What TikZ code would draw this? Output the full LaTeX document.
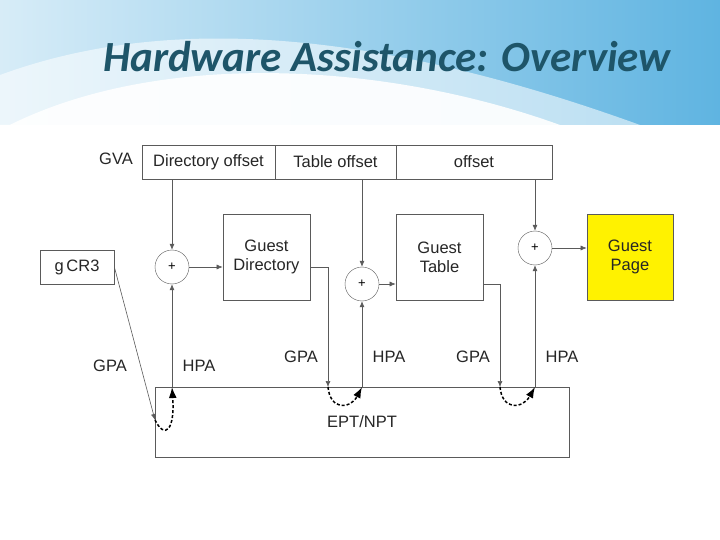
\documentclass[tikz,border=0pt]{standalone}
\usepackage{fontspec}
\setmainfont{Liberation Sans}
\newfontfamily\titlefont{Carlito}
\usetikzlibrary{arrows.meta}
\definecolor{ln}{RGB}{90,90,90}
\definecolor{sky}{RGB}{95,180,225}
\definecolor{titlec}{RGB}{30,85,105}
\begin{document}
\begin{tikzpicture}[x=1pt,y=-1pt,
  lbl/.style={font=\fontsize{16.5}{19}\selectfont,text=black!85},
  add/.style={draw=ln,circle,minimum size=34pt,inner sep=0pt,font=\fontsize{13}{14}\selectfont},
  arr/.style={draw=ln,line width=0.6pt,-{Latex[length=6pt,width=5pt]}},
  dsh/.style={draw=black,line width=1.5pt,dash pattern=on 3pt off 2pt,-{Latex[length=11pt,width=8pt]}}]
\useasboundingbox (0,0) rectangle (720,540);
\fill[white] (0,0) rectangle (720,540);
% top swoosh
\shade[left color=sky!25,right color=sky] (0,0) rectangle (720,125);
\fill[white,opacity=0.55] (0,75) .. controls (150,20) and (350,20) .. (640,125) -- (0,125) -- cycle;
\fill[white,opacity=0.9] (0,130) .. controls (150,50) and (380,60) .. (560,125) -- (0,125) -- cycle;
\fill[white] (0,127) rectangle (720,540);
\fill[white] (0,125) rectangle (684,127);
\node[font=\titlefont\bfseries\itshape\fontsize{43}{45}\selectfont,text=titlec] (title) at (387,57) {Hardware Assistance: Overview};
% GVA bar
\node[lbl] (gva) at (116,159) {GVA};
\node[draw=ln,line width=0.7pt,minimum width=133pt,minimum height=34pt,inner sep=0pt,lbl] (dir) at (208.5,162) {Directory offset};
\node[draw=ln,line width=0.7pt,minimum width=121pt,minimum height=34pt,inner sep=0pt,lbl] (tab) at (335.5,162) {Table offset};
\node[draw=ln,line width=0.7pt,minimum width=156pt,minimum height=34pt,inner sep=0pt,lbl] (off) at (474,162) {offset};
% boxes
\node[draw=ln,line width=0.7pt,minimum width=74pt,minimum height=34pt,inner sep=0pt,lbl] (cr3) at (77,267) {g\,CR3};
\node[draw=ln,line width=0.7pt,minimum width=87pt,minimum height=86pt,inner sep=0pt,lbl,align=center] (gd) at (266.5,257) {Guest\\Directory};
\node[draw=ln,line width=0.7pt,minimum width=87pt,minimum height=86pt,inner sep=0pt,lbl,align=center] (gt) at (439.5,257) {Guest\\Table};
\node[draw=ln,fill=yellow,line width=0.7pt,minimum width=86pt,minimum height=86pt,inner sep=0pt,lbl,align=center] (gp) at (630,257) {Guest\\Page};
\node[add] (c1) at (172,267) {+};
\node[add] (c2) at (362,284) {+};
\node[add] (c3) at (535,248) {+};
\node[draw=ln,line width=0.7pt,minimum width=414pt,minimum height=70pt,inner sep=0pt] (ept) at (362,422) {};
\node[lbl] (eptl) at (362,422) {EPT/NPT};
% offsets into adders
\draw[arr] (c1 |- dir.south) -- (c1.north);
\draw[arr] (c2 |- tab.south) -- (c2.north);
\draw[arr] (c3 |- off.south) -- (c3.north);
\draw[arr] (c1.east) -- (c1 -| gd.west);
\draw[arr] (c2.east) -- (c2 -| gt.west);
\draw[arr] (c3.east) -- (c3 -| gp.west);
% HPA
\draw[arr] (c1 |- ept.north) -- (c1.south);
\draw[arr] (c2 |- ept.north) -- (c2.south);
\draw[arr] (c3 |- ept.north) -- (c3.south);
% GPA
\coordinate (g1) at (328,387);
\coordinate (g2) at (500,387);
\draw[arr] (gd.east |- c1) -- (328,267) -- (g1);
\draw[arr] (gt.east |- c2) -- (500,284) -- (g2);
\coordinate (g0) at (155,420);
\draw[arr] (cr3.east) -- (g0);
% dashed
\coordinate (h0) at (172,387);
\coordinate (h1) at (362,387);
\coordinate (h2) at (535,387);
\draw[dsh] (g0) .. controls (165,440) and (175,430) .. (h0);
\draw[dsh] (g1) .. controls (330,410) and (350,410) .. (h1);
\draw[dsh] (g2) .. controls (502,410) and (522,410) .. (h2);
% labels
\node[lbl] (l1) at (110,366) {GPA};
\node[lbl] (l2) at (199,366) {HPA};
\node[lbl] (l3) at (301,357) {GPA};
\node[lbl] (l4) at (389,357) {HPA};
\node[lbl] (l5) at (473,357) {GPA};
\node[lbl] (l6) at (562,357) {HPA};
\end{tikzpicture}
\end{document}
